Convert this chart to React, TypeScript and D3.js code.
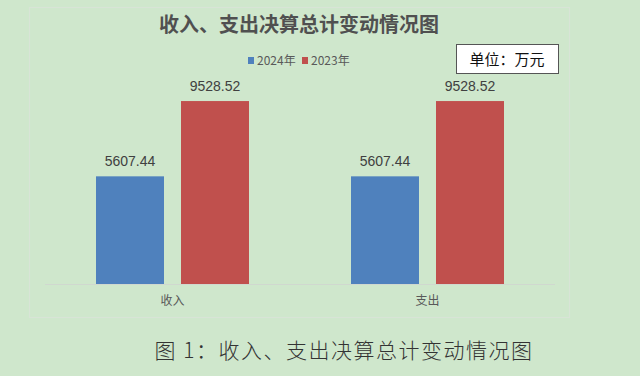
import React from "react";
import * as d3 from "d3";

const categories = ["收入", "支出"];
const seriesNames = ["2024年", "2023年"];
const values2024 = [5607.44, 5607.44];
const values2023 = [9528.52, 9528.52];
const seriesColors = ["#4f81bd", "#c0504d"];
const title = "收入、支出决算总计变动情况图";
const unitText = "单位：万元";
const caption = "图 1：收入、支出决算总计变动情况图";

export default function App() {
  const W = 640, H = 376;
  const x0 = d3.scaleBand<string>().domain(categories).range([45, 555]).padding(0);
  const x1 = d3.scaleBand<string>().domain(seriesNames).range([51, 204]).paddingInner(0.2).paddingOuter(0);
  const y = d3.scaleLinear().domain([0, 10000]).range([284, 92]);
  const series = [values2024, values2023];
  const cjk = "'Noto Sans CJK SC', 'Liberation Sans', sans-serif";
  return (
    <svg width={W} height={H} style={{ position: "absolute", left: 0, top: 0, display: "block" }}>
      <rect x={0} y={0} width={W} height={H} fill="#cfe7cc" />
      <rect x={29.5} y={7.5} width={540} height={310} fill="none" stroke="#d8e4d6" strokeWidth={1.2} />
      <text x={299} y={32} textAnchor="middle" fontFamily={cjk} fontWeight="bold" fontSize={20} fill="#505050">{title}</text>
      {/* legend */}
      {seriesNames.map((s, i) => {
        const lx = [248, 302][i];
        return (
          <g key={s}>
            <rect x={lx} y={57} width={6} height={7} fill={seriesColors[i]} />
            <text x={lx + 9} y={65} fontFamily={cjk} fontSize={12} fill="#595959">{s}</text>
          </g>
        );
      })}
      {/* unit box */}
      <rect x={456.5} y={44.5} width={102} height={29} fill="#ffffff" stroke="#555" strokeWidth={1} />
      <text x={507} y={65} textAnchor="middle" fontFamily={cjk} fontSize={15} fill="#111">{unitText}</text>
      {/* axis line */}
      <line x1={45} x2={555} y1={284.5} y2={284.5} stroke="#d0d8cf" strokeWidth={1} />
      {categories.map((c, ci) => (
        <g key={c} transform={`translate(${x0(c)},0)`}>
          {seriesNames.map((s, si) => {
            const v = series[si][ci];
            const bx = x1(s)!;
            return (
              <g key={s}>
                <rect x={bx} y={y(v)} width={x1.bandwidth()} height={y(0) - y(v)} fill={seriesColors[si]} />
                <text x={bx + x1.bandwidth() / 2} y={y(v) - 10} textAnchor="middle" fontFamily="'Liberation Sans', sans-serif" fontSize={14} fill="#404040">{v.toFixed(2)}</text>
              </g>
            );
          })}
          <text x={x0.bandwidth() / 2} y={305} textAnchor="middle" fontFamily={cjk} fontSize={12} fill="#595959">{c}</text>
        </g>
      ))}
      <text x={344} y={358} textAnchor="middle" fontFamily={cjk} fontWeight={300} fontSize={21} letterSpacing={1.5} fill="#333">{caption}</text>
    </svg>
  );
}
